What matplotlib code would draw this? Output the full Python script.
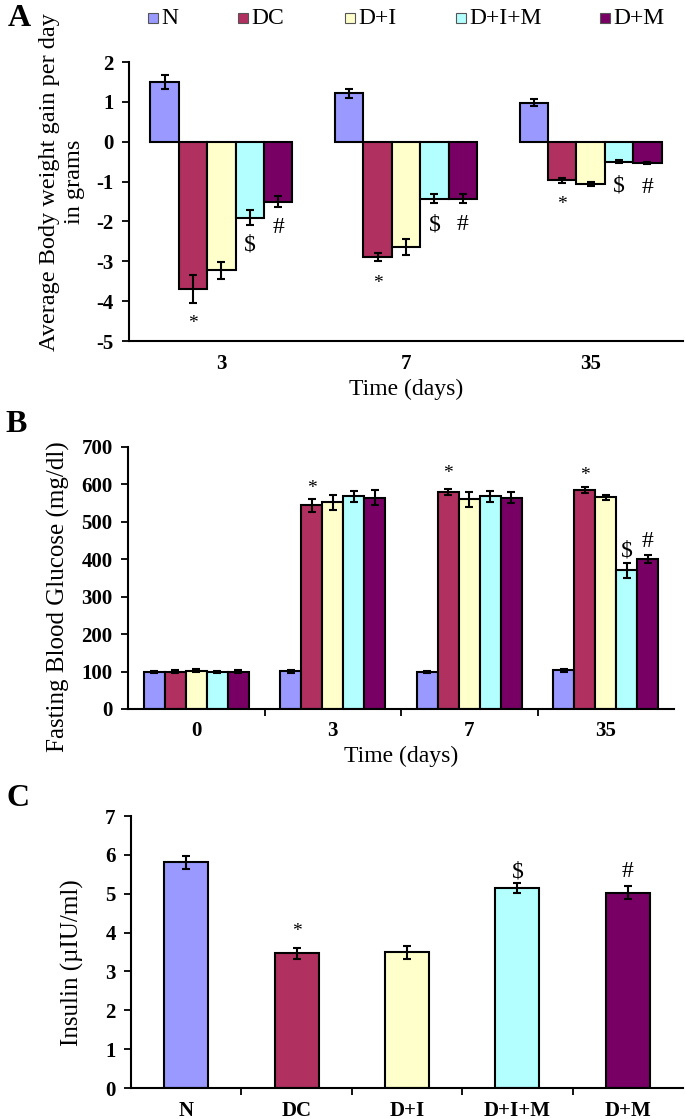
import matplotlib
matplotlib.use('Agg')
import matplotlib.pyplot as plt
from matplotlib.patches import Rectangle
import numpy as np

plt.rcParams['font.family'] = ['Liberation Serif', 'DejaVu Serif']
plt.rcParams['axes.unicode_minus'] = False

# ---- data ----
groups = ['N', 'DC', 'D+I', 'D+I+M', 'D+M']
colors = ['#9999FF', '#B03060', '#FFFFCC', '#B3FFFF', '#780064']

# A: body weight gain per day (g), rows = groups, cols = days
weight_days = ['3', '7', '35']
weight_mean = [
    [1.50, 1.21, 0.98],
    [-3.70, -2.89, -0.97],
    [-3.23, -2.64, -1.05],
    [-1.91, -1.43, -0.50],
    [-1.50, -1.43, -0.54],
]
weight_err = [
    [0.18, 0.12, 0.08],
    [0.35, 0.10, 0.07],
    [0.22, 0.20, 0.05],
    [0.19, 0.11, 0.03],
    [0.13, 0.12, 0.02],
]
# (day index, group index, symbol, y)
weight_marks = [(0, 1, '*', -4.57), (0, 3, '$', -2.58), (0, 4, '#', -2.14),
                (1, 1, '*', -3.55), (1, 3, '$', -2.08), (1, 4, '#', -2.08),
                (2, 1, '*', -1.58), (2, 3, '$', -1.10), (2, 4, '#', -1.16)]

# B: fasting blood glucose (mg/dl)
glucose_days = ['0', '3', '7', '35']
glucose_mean = [
    [98, 101, 98, 103],
    [100, 544, 580, 586],
    [102, 553, 560, 566],
    [98, 568, 568, 371],
    [100, 565, 565, 401],
]
glucose_err = [
    [3, 4, 3, 4],
    [3, 18, 8, 8],
    [4, 20, 20, 7],
    [3, 15, 15, 20],
    [3, 20, 15, 11],
]
glucose_marks = [(1, 1, '*', 590), (2, 1, '*', 628), (3, 1, '*', 623),
                 (3, 3, '$', 423), (3, 4, '#', 448)]

# C: insulin (uIU/ml)
insulin_mean = [5.81, 3.47, 3.49, 5.15, 5.03]
insulin_err = [0.17, 0.14, 0.16, 0.13, 0.16]
insulin_marks = [(1, '*', 4.02), (3, '$', 5.57), (4, '#', 5.57)]

# ---- figure ----
W, H = 685, 1119
fig = plt.figure(figsize=(W / 100, H / 100), dpi=100)


def px_axes(left, right, top, bottom):
    """axes from pixel box (origin top-left)"""
    return fig.add_axes([left / W, 1 - bottom / H, (right - left) / W, (bottom - top) / H])


def style(ax):
    for s in ['top', 'right']:
        ax.spines[s].set_visible(False)
    for s in ['left', 'bottom']:
        ax.spines[s].set_linewidth(1.5)
    ax.tick_params(axis='y', direction='out', length=5, width=1.3, pad=6,
                   labelsize=15)
    ax.tick_params(axis='x', which='major', length=0, pad=9, labelsize=15)
    for lab in ax.get_xticklabels() + ax.get_yticklabels():
        lab.set_fontweight('bold')


def mark_size(s):
    return 14 if s == '*' else 17


bw = 1 / 6.5  # Excel gap width 150%
err_kw = dict(fmt='none', ecolor='black', elinewidth=1.5, capsize=3, capthick=1.5)


def grouped(ax, means, errs, ncat):
    x = np.arange(ncat)
    for i in range(len(groups)):
        xi = x + (i - 2) * bw
        ax.bar(xi, means[i], bw, color=colors[i], edgecolor='black', linewidth=1.5, zorder=2)
        ax.errorbar(xi, means[i], yerr=errs[i], zorder=3, **err_kw)


# Panel A
axA = px_axes(129, 683, 62, 341)
grouped(axA, weight_mean, weight_err, len(weight_days))
axA.set_xlim(-0.5, len(weight_days) - 0.5)
axA.set_ylim(-5, 2)
axA.set_yticks(range(-5, 3))
axA.set_xticks(range(len(weight_days)))
axA.set_xticklabels(weight_days)
style(axA)
axA.set_xlabel('Time (days)', fontsize=17, labelpad=4)
axA.set_ylabel('Average Body weight gain per day\nin grams', fontsize=17.5,
               linespacing=1.2)
axA.yaxis.set_label_coords(-0.08, 0.57)
for d, g, s, y in weight_marks:
    axA.text(d + (g - 2) * bw, y, s, ha='center', va='center', fontsize=mark_size(s))

# Panel B
axB = px_axes(128, 674, 447, 709)
grouped(axB, glucose_mean, glucose_err, len(glucose_days))
axB.set_xlim(-0.5, len(glucose_days) - 0.5)
axB.set_ylim(0, 700)
axB.set_yticks(range(0, 701, 100))
axB.set_xticks(range(len(glucose_days)))
axB.set_xticklabels(glucose_days)
axB.set_xticks(np.arange(0.5, len(glucose_days) - 0.5), minor=True)
axB.tick_params(axis='x', which='minor', direction='out', length=5, width=1.3)
style(axB)
axB.set_xlabel('Time (days)', fontsize=17, labelpad=3)
axB.set_ylabel('Fasting Blood Glucose (mg/dl)', fontsize=18)
axB.yaxis.set_label_coords(-0.106, 0.43)
for d, g, s, y in glucose_marks:
    axB.text(d + (g - 2) * bw, y, s, ha='center', va='center', fontsize=mark_size(s))

# Panel C
axC = px_axes(131, 683, 816, 1088)
xc = np.arange(len(groups))
axC.bar(xc, insulin_mean, 0.4, color=colors, edgecolor='black', linewidth=1.5, zorder=2)
axC.errorbar(xc, insulin_mean, yerr=insulin_err, zorder=3, **err_kw)
axC.set_xlim(-0.5, len(groups) - 0.5)
axC.set_ylim(0, 7)
axC.set_yticks(range(0, 8))
axC.set_xticks(xc)
axC.set_xticklabels(groups)
axC.set_xticks(np.arange(0.5, len(groups) - 0.5), minor=True)
axC.tick_params(axis='x', which='minor', direction='out', length=5, width=1.3)
style(axC)
axC.set_ylabel('Insulin (\u00b5IU/ml)', fontsize=18)
axC.yaxis.set_label_coords(-0.085, 0.46)
for g, s, y in insulin_marks:
    axC.text(g, y, s, ha='center', va='center', fontsize=mark_size(s))

# panel letters
for letter, (x, y) in zip('ABC', [(19, 18), (16, 425), (18, 798)]):
    fig.text(x / W, 1 - y / H, letter, fontsize=23, fontweight='bold',
             ha='center', va='center')

# legend across top
leg_x = [148, 238, 345, 456, 600]
for i, g in enumerate(groups):
    fig.patches.append(Rectangle((leg_x[i] / W, 1 - 23 / H), 10 / W, 10 / H,
                                 transform=fig.transFigure, facecolor=colors[i],
                                 edgecolor='#555555', linewidth=0.8))
    fig.text((leg_x[i] + 13) / W, 1 - 18 / H, g, fontsize=17, ha='left', va='center')

fig.savefig('out.png', dpi=100, facecolor='white')
